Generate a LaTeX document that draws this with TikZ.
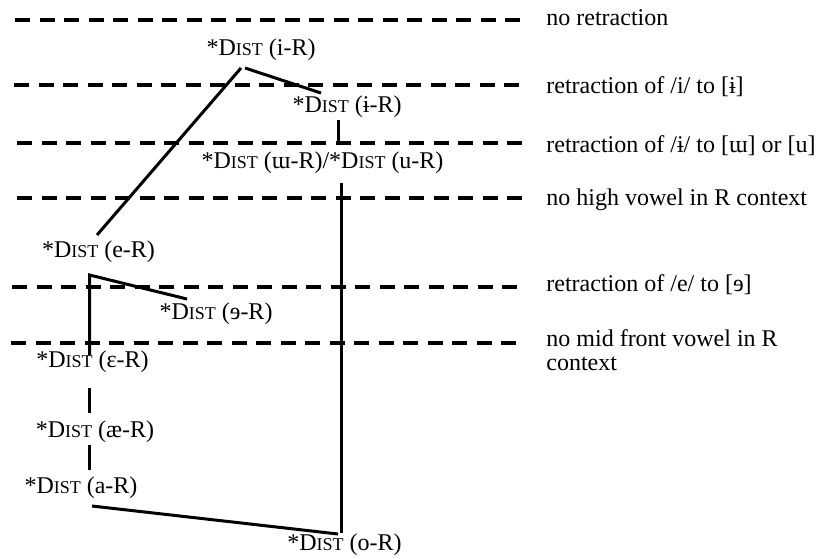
\documentclass[tikz,border=0pt]{standalone}
\usepackage{fontspec}
\setmainfont{Liberation Serif}
\usetikzlibrary{positioning, calc}
\newcommand{\distsc}{D{\fontsize{9}{9}\selectfont IST}}

\begin{document}
\begin{tikzpicture}[
    x=0.5pt, y=-0.5pt,
    font=\fontsize{12}{12}\selectfont,
    constraint/.style={inner sep=0pt, anchor=center},
    tierlabel/.style={inner sep=0pt, anchor=west, align=left},
    tier/.style={line width=2pt, dash pattern=on 7.5pt off 4.75pt, shorten >=12pt},
    rank/.style={line width=1.5pt}
]
    \useasboundingbox (0,0) rectangle (822,558);

    % --- Tier labels ---
    \node[tierlabel] (t1) at (546,18) {no retraction};
    \node[tierlabel] (t2) at (546,87) {retraction of /i/ to [ɨ]};
    \node[tierlabel] (t3) at (546,146) {retraction of /ɨ/ to [ɯ] or [u]};
    \node[tierlabel] (t4) at (546,200) {no high vowel in R context};
    \node[tierlabel] (t5) at (546,285) {retraction of /e/ to [ɘ]};
    \node[tierlabel] (t6) at (546,350) {no mid front vowel in R\\context};

    % --- Tier lines ---
    \coordinate (s1) at (15,20);
    \coordinate (s2) at (14,85);
    \coordinate (s3) at (17,143);
    \coordinate (s4) at (17,198);
    \coordinate (s5) at (12,287);
    \coordinate (s6) at (11,343);
    \draw[tier] (s1) -- (s1 -| t1.west);
    \draw[tier] (s2) -- (s2 -| t2.west);
    \draw[tier] (s3) -- (s3 -| t3.west);
    \draw[tier] (s4) -- (s4 -| t4.west);
    \draw[tier, shorten >=14.5pt] (s5) -- (s5 -| t5.west);
    \draw[tier, shorten >=14.5pt] (s6) -- (s6 -| t6.west);

    % --- Constraints ---
    \node[constraint] (iR) at (261,50) {*\distsc{} (i-R)};
    \node[constraint] (barR) at (347,107) {*\distsc{} (ɨ-R)};
    \node[constraint] (wuR) at (322.5,163) {*\distsc{} (ɯ-R)/*\distsc{} (u-R)};
    \node[constraint] (eR) at (98.5,252) {*\distsc{} (e-R)};
    \node[constraint] (revR) at (216,314) {*\distsc{} (ɘ-R)};
    \node[constraint] (epsR) at (92.5,362) {*\distsc{} (ɛ-R)};
    \node[constraint] (aeR) at (95,432) {*\distsc{} (æ-R)};
    \node[constraint] (aR) at (81,488) {*\distsc{} (a-R)};
    \node[constraint] (oR) at (344.5,545) {*\distsc{} (o-R)};

    % --- Rankings ---
    \draw[rank] ([shift={(-20,18)}]iR.center) -- ([shift={(-1.5,-17)}]eR.center);
    \draw[rank] ([shift={(-16,18)}]iR.center) -- ([shift={(-26,-14)}]barR.center);
    \draw[rank] ([shift={(-9,13)}]barR.center) -- ([shift={(15.5,-18)}]wuR.center);
    \draw[rank] ([shift={(18.5,20)}]wuR.center) -- ([shift={(-3.5,-12)}]oR.center);
    \draw[rank] ([shift={(-29,-15)}]revR.center) -- ([shift={(-9,23)}]eR.center) -- ([shift={(-3,-7)}]epsR.center);
    \draw[rank] ([shift={(-3,26)}]epsR.center) -- ([shift={(-5.5,-19)}]aeR.center);
    \draw[rank] ([shift={(-5.5,13)}]aeR.center) -- ([shift={(8.5,-18)}]aR.center);
    \draw[rank] ([shift={(11,18)}]aR.center) -- ([shift={(-6.5,-11)}]oR.center);

\end{tikzpicture}
\end{document}
